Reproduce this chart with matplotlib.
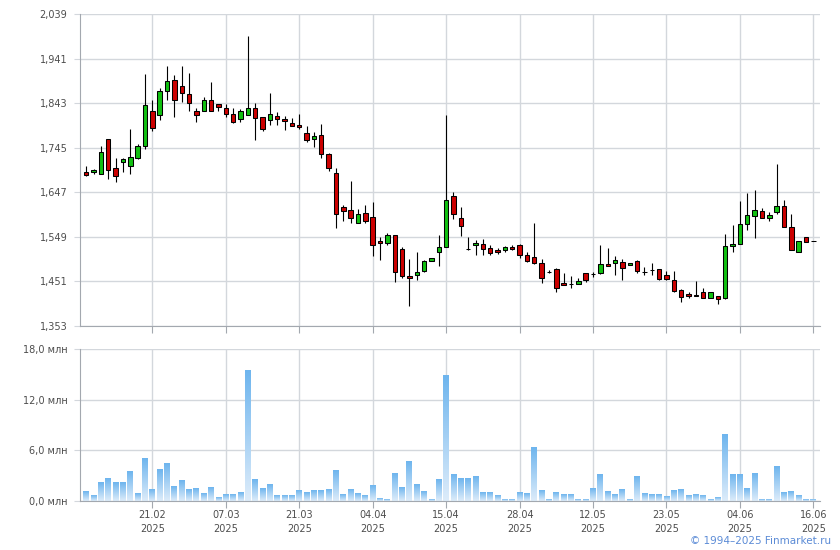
import numpy as np
import matplotlib
matplotlib.use('Agg')
from matplotlib import pyplot as plt
from matplotlib.colors import LinearSegmentedColormap
from matplotlib.ticker import FuncFormatter

# daily candles, oldest first
opens = [
    1.6916, 1.6916, 1.6872, 1.7640, 1.7004, 1.7128, 1.7048, 1.7216, 1.7479, 1.8255,
    1.8159, 1.8693, 1.8935, 1.8810, 1.8628, 1.8262, 1.8255, 1.8503, 1.8408, 1.8320,
    1.8189, 1.8079, 1.8167, 1.8320, 1.8123, 1.8057, 1.8145, 1.8086, 1.7991, 1.7947,
    1.7772, 1.7640, 1.7728, 1.7311, 1.6894, 1.6148, 1.6082, 1.5797, 1.6017, 1.5929,
    1.5402, 1.5351, 1.5534, 1.5234, 1.4634, 1.4649, 1.4737, 1.4964, 1.5161, 1.5271,
    1.6390, 1.5907, 1.5234, 1.5307, 1.5337, 1.5249, 1.5205, 1.5205, 1.5271, 1.5315,
    1.5095, 1.5051, 1.4920, 1.4726, 1.4788, 1.4481, 1.4459, 1.4459, 1.4700, 1.4678,
    1.4700, 1.4898, 1.4920, 1.4942, 1.4876, 1.4964, 1.4715, 1.4766, 1.4788, 1.4656,
    1.4547, 1.4327, 1.4240, 1.4218, 1.4283, 1.4152, 1.4196, 1.4144, 1.5293, 1.5337,
    1.5775, 1.5951, 1.6061, 1.5907, 1.6039, 1.6170, 1.5710, 1.5161, 1.5490, 1.5395]
closes = [
    1.6843, 1.6960, 1.7355, 1.6960, 1.6821, 1.7201, 1.7245, 1.7487, 1.8386, 1.7882,
    1.8701, 1.8920, 1.8496, 1.8664, 1.8430, 1.8159, 1.8503, 1.8255, 1.8342, 1.8189,
    1.8013, 1.8262, 1.8320, 1.8101, 1.7860, 1.8189, 1.8079, 1.8028, 1.7918, 1.7896,
    1.7618, 1.7706, 1.7311, 1.7004, 1.5995, 1.6061, 1.5907, 1.5995, 1.5841, 1.5307,
    1.5351, 1.5534, 1.4722, 1.4634, 1.4583, 1.4722, 1.4964, 1.5029, 1.5271, 1.6302,
    1.5995, 1.5731, 1.5220, 1.5358, 1.5227, 1.5139, 1.5154, 1.5271, 1.5220, 1.5095,
    1.4964, 1.4912, 1.4591, 1.4718, 1.4371, 1.4430, 1.4459, 1.4525, 1.4547, 1.4678,
    1.4898, 1.4846, 1.4985, 1.4810, 1.4920, 1.4744, 1.4715, 1.4766, 1.4569, 1.4569,
    1.4305, 1.4174, 1.4196, 1.4196, 1.4152, 1.4283, 1.4130, 1.5293, 1.5337, 1.5775,
    1.5973, 1.6082, 1.5907, 1.5973, 1.6170, 1.5710, 1.5205, 1.5402, 1.5380, 1.5395]
highs = [
    1.7048, 1.6975, 1.7494, 1.7640, 1.7223, 1.7223, 1.7860, 1.7531, 1.9066, 1.8503,
    1.8759, 1.9249, 1.9044, 1.9249, 1.9088, 1.8320, 1.8576, 1.8891, 1.8408, 1.8408,
    1.8320, 1.8298, 1.9907, 1.8430, 1.8123, 1.8649, 1.8233, 1.8145, 1.8101, 1.8189,
    1.7925, 1.7794, 1.7969, 1.7333, 1.7004, 1.6200, 1.6726, 1.6112, 1.6192, 1.6265,
    1.5490, 1.5578, 1.5534, 1.5256, 1.5007, 1.5161, 1.4985, 1.5029, 1.5534, 1.8167,
    1.6477, 1.6148, 1.5490, 1.5410, 1.5446, 1.5307, 1.5249, 1.5285, 1.5315, 1.5337,
    1.5161, 1.5797, 1.5007, 1.4766, 1.4810, 1.4700, 1.4634, 1.4591, 1.4700, 1.4722,
    1.5315, 1.5249, 1.5073, 1.5007, 1.4920, 1.4985, 1.4832, 1.4920, 1.4788, 1.4744,
    1.4744, 1.4349, 1.4283, 1.4525, 1.4371, 1.4283, 1.4196, 1.5556, 1.5753, 1.6280,
    1.6455, 1.6521, 1.6126, 1.6039, 1.7092, 1.6302, 1.5995, 1.5402, 1.5490, 1.5395]
lows = [
    1.6821, 1.6872, 1.6872, 1.6755, 1.6690, 1.6909, 1.6865, 1.7194, 1.7414, 1.7808,
    1.8050, 1.8489, 1.8116, 1.8445, 1.8247, 1.8006, 1.8255, 1.8255, 1.8247, 1.8116,
    1.7991, 1.8006, 1.8167, 1.7611, 1.7808, 1.7955, 1.7940, 1.7830, 1.7918, 1.7860,
    1.7574, 1.7457, 1.7216, 1.6931, 1.5680, 1.5834, 1.5790, 1.5797, 1.5797, 1.5066,
    1.4978, 1.5307, 1.4495, 1.4591, 1.3969, 1.4539, 1.4715, 1.4964, 1.4846, 1.5271,
    1.5885, 1.5505, 1.5205, 1.5088, 1.5088, 1.5088, 1.5110, 1.5154, 1.5205, 1.5022,
    1.4934, 1.4890, 1.4474, 1.4686, 1.4276, 1.4430, 1.4364, 1.4459, 1.4503, 1.4612,
    1.4678, 1.4846, 1.4656, 1.4539, 1.4876, 1.4700, 1.4656, 1.4656, 1.4539, 1.4547,
    1.4283, 1.4064, 1.4152, 1.4196, 1.4152, 1.4152, 1.4020, 1.4123, 1.5161, 1.5337,
    1.5644, 1.5461, 1.5907, 1.5834, 1.5995, 1.5710, 1.5205, 1.5161, 1.5380, 1.5395]
# volume, mln
volumes = [
    1.10, 0.63, 2.17, 2.64, 2.17, 2.17, 3.46, 0.87, 5.00, 1.34,
    3.70, 4.41, 1.69, 2.40, 1.34, 1.46, 0.87, 1.57, 0.39, 0.75,
    0.75, 0.98, 15.40, 2.52, 1.46, 1.93, 0.63, 0.63, 0.63, 1.22,
    0.98, 1.22, 1.22, 1.34, 3.58, 0.75, 1.34, 0.87, 0.63, 1.81,
    0.28, 0.16, 3.23, 1.57, 4.65, 1.93, 1.10, 0.16, 2.52, 14.90,
    3.11, 2.64, 2.64, 2.87, 0.98, 0.98, 0.63, 0.16, 0.16, 0.98,
    0.87, 6.30, 1.22, 0.16, 0.98, 0.75, 0.75, 0.16, 0.16, 1.46,
    3.11, 1.10, 0.75, 1.34, 0.16, 2.87, 0.87, 0.75, 0.75, 0.51,
    1.22, 1.34, 0.63, 0.75, 0.63, 0.16, 0.39, 7.83, 3.11, 3.11,
    1.46, 3.23, 0.16, 0.16, 4.06, 0.98, 1.10, 0.63, 0.16, 0.16]

date_labels = ['21.02', '07.03', '21.03', '04.04', '15.04',
               '28.04', '12.05', '23.05', '04.06', '16.06']
year_label = '2025'
price_ticks = [1.353, 1.451, 1.549, 1.647, 1.745, 1.843, 1.941, 2.039]
vol_ticks = [0, 6, 12, 18]

grid_c = '#D3D7DC'
spine_c = '#A3A8AF'
text_c = '#4D4D4D'
plt.rcParams['font.family'] = 'DejaVu Sans'
plt.rcParams['font.size'] = 7

fig = plt.figure(figsize=(8.4, 5.5), dpi=100)
ax1 = fig.add_axes([80 / 840, 224 / 550, 740 / 840, 312 / 550])
ax2 = fig.add_axes([80 / 840, 49 / 550, 740 / 840, 152 / 550])

x = np.arange(len(opens))
o = np.array(opens)
c = np.array(closes)
up = c >= o
body_col = np.where(up, '#11C011', '#CC0000')

# wicks first, bodies on top
ax1.vlines(x, lows, highs, color='black', lw=0.8, zorder=2)
ax1.bar(x, np.abs(c - o), bottom=np.minimum(o, c), width=0.6,
        color=body_col, edgecolor='black', linewidth=0.75, zorder=3)

tick_pos = list(range(9, len(opens), 10))

for ax in (ax1, ax2):
    ax.set_xlim(-0.85, 99.9)
    ax.set_xticks(tick_pos)
    ax.grid(True, color=grid_c, lw=1)
    ax.set_axisbelow(True)
    for s in ('top', 'right'):
        ax.spines[s].set_visible(False)
    for s in ('left', 'bottom'):
        ax.spines[s].set_color(spine_c)
    ax.tick_params(axis='x', length=5, color=spine_c, labelcolor=text_c, pad=1.5)
    ax.tick_params(axis='y', length=4, color=grid_c, labelcolor=text_c, pad=5)

ax1.set_ylim(1.353, 2.039)
ax1.set_yticks(price_ticks)
ax1.yaxis.set_major_formatter(FuncFormatter(lambda v, p: f'{v:.3f}'.replace('.', ',')))
ax1.set_xticklabels([''] * len(tick_pos))

# volume bars with vertical gradient
cmap = LinearSegmentedColormap.from_list('vol', ['#DDECFA', '#6EB5EE'])
grad = np.linspace(0, 1, 64).reshape(-1, 1)
for xi, v in zip(x, volumes):
    ax2.imshow(grad, extent=(xi - 0.4, xi + 0.4, 0, v), origin='lower',
               aspect='auto', cmap=cmap, zorder=2, interpolation='bilinear')
ax2.set_xlim(-0.85, 99.9)
ax2.set_ylim(0, 18)
ax2.set_yticks(vol_ticks)
ax2.yaxis.set_major_formatter(FuncFormatter(lambda v, p: f'{v:.1f}'.replace('.', ',') + ' млн'))
ax2.set_xticklabels([d + '\n' + year_label for d in date_labels], linespacing=1.5)

fig.text(0.99, 0.016, '© 1994–2025 Finmarket.ru', ha='right', va='center',
         color='#5B8BD6', fontsize=7.5)

fig.savefig('out.png', dpi=100)
